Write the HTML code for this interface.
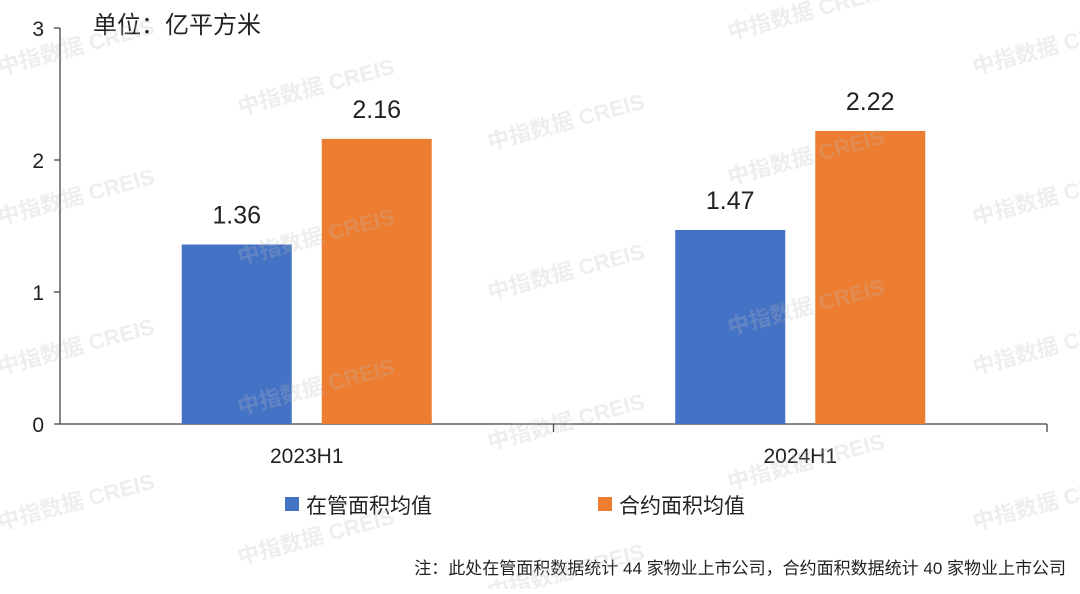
<!DOCTYPE html>
<html><head><meta charset="utf-8"><style>
html,body{margin:0;padding:0;background:#fff;}
body{width:1080px;height:589px;overflow:hidden;font-family:"Liberation Sans","Noto Sans CJK SC",sans-serif;}
</style></head><body>
<svg id="chart" width="1080" height="589" xmlns="http://www.w3.org/2000/svg" font-family="Liberation Sans, Noto Sans CJK SC, sans-serif">
<text x="93" y="33" font-size="24" fill="#222">单位：亿平方米</text>
<g id="axes"></g>
<g id="bars"></g>
<g>
<rect x="285" y="497" width="14" height="14" fill="#4472C4"/>
<text x="306" y="513" font-size="21" fill="#222">在管面积均值</text>
<rect x="598" y="497" width="14" height="14" fill="#ED7D31"/>
<text x="619" y="513" font-size="21" fill="#222">合约面积均值</text>
</g>
<text x="1066" y="574" text-anchor="end" font-size="17" fill="#222">注：此处在管面积数据统计 44 家物业上市公司，合约面积数据统计 40 家物业上市公司</text>
<g id="wm" fill="#bbbbbb" fill-opacity="0.25" font-size="22" font-weight="bold"></g>
</svg>
<script>
const categories=["2023H1","2024H1"];
const managedValues=[1.36,1.47];
const contractValues=[2.16,2.22];
const valueLabelsManaged=["1.36","1.47"];
const valueLabelsContract=["2.16","2.22"];
const yTicks=[0,1,2,3];
const NS="http://www.w3.org/2000/svg";
const x0=60,x1=1047,yBase=424,yTop=28,yMax=3;
const yScale=v=>yBase-(v/yMax)*(yBase-yTop);
const band=(x1-x0)/categories.length;
const xCenter=i=>x0+band*(i+0.5);
function mk(tag,attrs,parent){const e=document.createElementNS(NS,tag);for(const k in attrs)e.setAttribute(k,attrs[k]);parent.appendChild(e);return e;}
const axes=document.getElementById('axes');
const bars=document.getElementById('bars');
let l=mk('line',{x1:x0,y1:yTop,x2:x0,y2:yBase,stroke:'#444','stroke-width':1.3},axes);


l=mk('line',{x1:x0,y1:yBase,x2:x1,y2:yBase,stroke:'#444','stroke-width':1.3},axes);


yTicks.forEach(t=>{
  const y=yScale(t);
  const tk=mk('line',{x1:x0-6,y1:y,x2:x0,y2:y,stroke:'#444','stroke-width':1.3},axes);
  
  
  const tx=mk('text',{x:44,y:y+8,'text-anchor':'end','font-size':21,fill:'#222'},axes);
  tx.textContent=t;
  
  
});
for(let i=1;i<=categories.length;i++){
  const x=x0+band*i;
  const tk=mk('line',{x1:x,y1:yBase,x2:x,y2:yBase+8,stroke:'#444','stroke-width':1.3},axes);
  
  
}
categories.forEach((c,i)=>{
  const cx=xCenter(i);
  const tx=mk('text',{x:cx,y:463,'text-anchor':'middle','font-size':21,fill:'#222'},axes);
  tx.textContent=c;
  
  
  const w=110;
  [[managedValues[i],valueLabelsManaged[i],'#4472C4',cx-125,'bar-managed'],[contractValues[i],valueLabelsContract[i],'#ED7D31',cx+15,'bar-contract']].forEach(([v,lab,col,x,nm])=>{
    const y=yScale(v);
    const r=mk('rect',{x:x,y:y,width:w,height:yBase-y,fill:col},bars);
    
    
    const t=mk('text',{x:x+w/2,y:y-21,'text-anchor':'middle','font-size':25,fill:'#222'},bars);
    t.textContent=lab;
    
    
  });
});
const wm=document.getElementById('wm');
[[0,75],[240,115],[490,150],[730,40],[975,75],[0,225],[240,265],[490,300],[730,185],[975,225],[0,375],[240,415],[490,450],[730,335],[975,375],[0,530],[240,565],[490,600],[730,490],[975,530]].forEach(([x,y])=>{
  const t=mk('text',{x:x,y:y,transform:`rotate(-15 ${x} ${y})`},wm);
  t.textContent='中指数据 CREIS';
  
  
});
</script>
</body></html>
